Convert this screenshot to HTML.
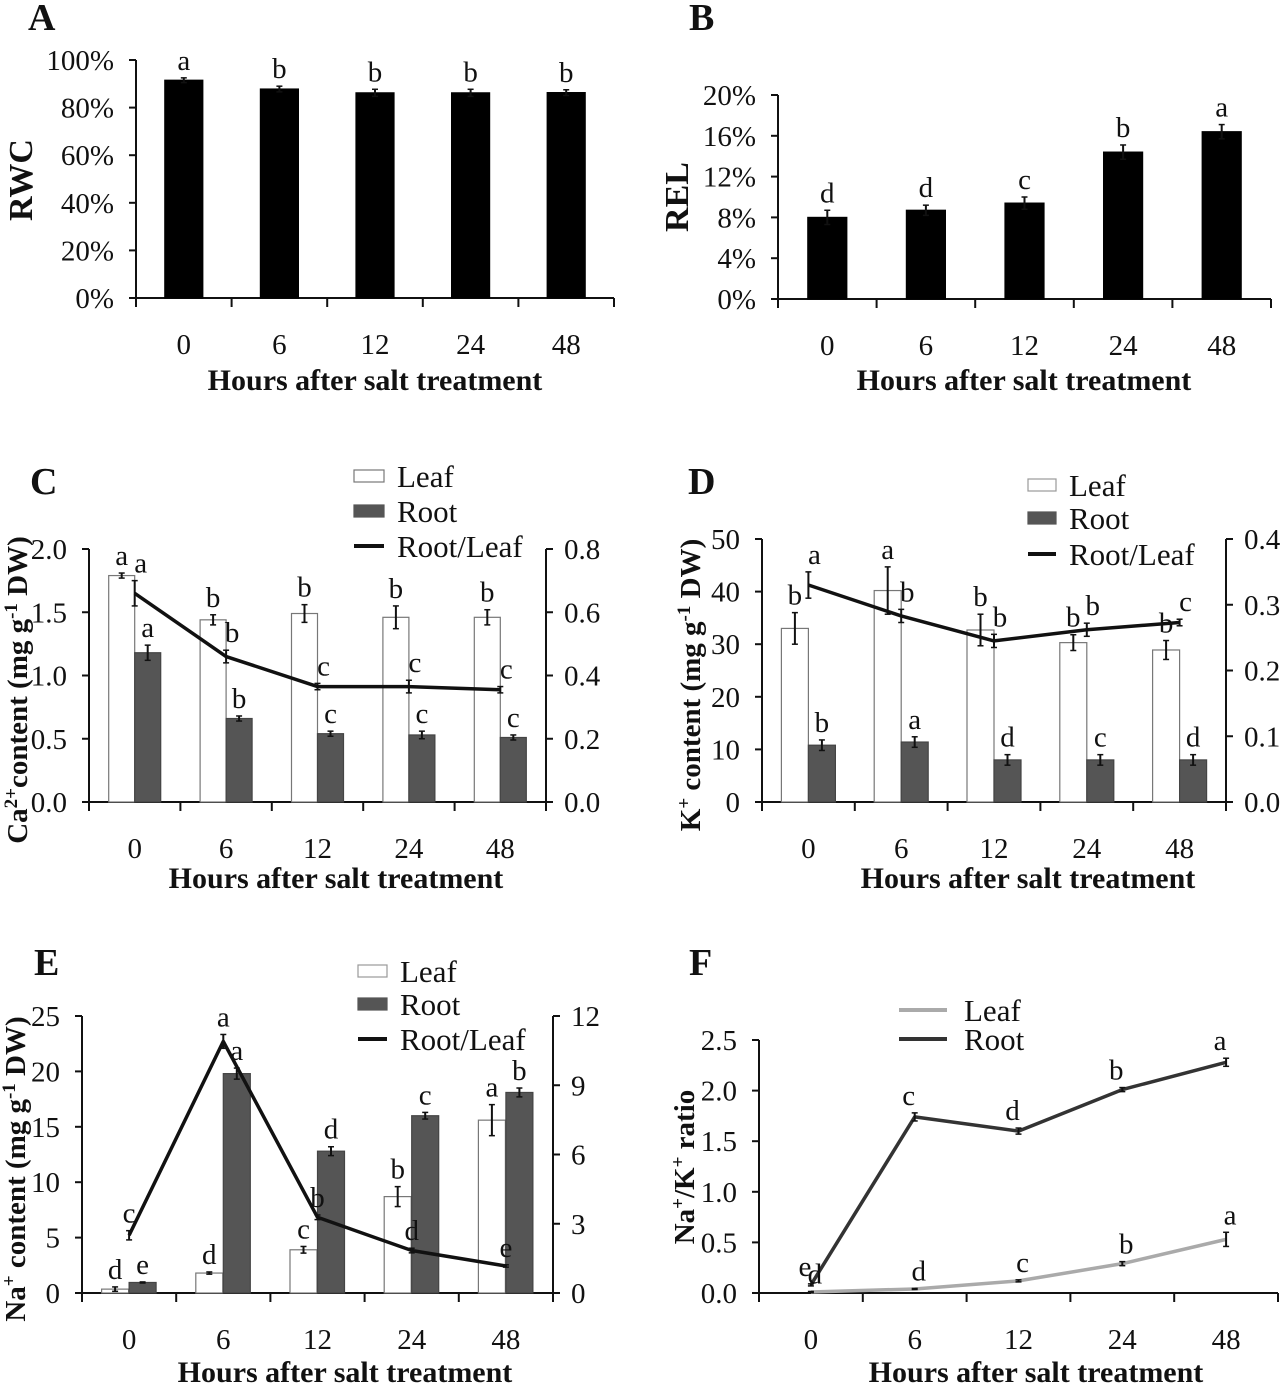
<!DOCTYPE html>
<html><head><meta charset="utf-8"><title>Salt treatment figure</title>
<style>
html,body{margin:0;padding:0;background:#fff;}
svg{display:block;font-family:"Liberation Serif",serif;}
</style></head>
<body>
<svg id="fig" width="1280" height="1384" viewBox="0 0 1280 1384" xmlns="http://www.w3.org/2000/svg"></svg>
<script>
const cats = ["0","6","12","24","48"];
// Panel A
const rwc = [91.5,87.8,86.2,86.2,86.3];
const rwcErr = [1,1.2,1.5,1.5,1.2];
const rwcSig = ["a","b","b","b","b"];
const rwcTicks = ["0%","20%","40%","60%","80%","100%"];
// Panel B
const rel = [8.0,8.7,9.4,14.4,16.4];
const relErr = [0.7,0.5,0.6,0.7,0.7];
const relSig = ["d","d","c","b","a"];
const relTicks = ["0%","4%","8%","12%","16%","20%"];
// Panel C
const caLeaf = [1.79,1.44,1.49,1.46,1.46];
const caLeafErr = [0.02,0.04,0.07,0.09,0.06];
const caLeafSig = ["a","b","b","b","b"];
const caRoot = [1.18,0.66,0.54,0.53,0.51];
const caRootErr = [0.06,0.02,0.02,0.03,0.02];
const caRootSig = ["a","b","c","c","c"];
const caRatio = [0.66,0.46,0.365,0.365,0.355];
const caRatioErr = [0.04,0.02,0.01,0.02,0.01];
const caRatioSig = ["a","b","c","c","c"];
const caTicks = ["0.0","0.5","1.0","1.5","2.0"];
const caRTicks = ["0.0","0.2","0.4","0.6","0.8"];
// Panel D
const kLeaf = [33,40.2,32.7,30.3,28.9];
const kLeafErr = [3,4.5,3,1.5,1.8];
const kLeafSig = ["b","a","b","b","b"];
const kRoot = [10.8,11.4,8,8,8];
const kRootErr = [1,1,1,1,1];
const kRootSig = ["b","a","d","c","d"];
const kRatio = [0.33,0.283,0.245,0.262,0.273];
const kRatioErr = [0.02,0.01,0.01,0.01,0.005];
const kRatioSig = ["a","b","b","b","c"];
const kTicks = ["0","10","20","30","40","50"];
const kRTicks = ["0.0","0.1","0.2","0.3","0.4"];
// Panel E
const naLeaf = [0.35,1.8,3.9,8.7,15.6];
const naLeafErr = [0.2,0.1,0.3,0.9,1.4];
const naLeafSig = ["d","d","c","b","a"];
const naRoot = [0.95,19.8,12.8,16.0,18.1];
const naRootErr = [0.05,0.5,0.4,0.3,0.4];
const naRootSig = ["e","a","d","c","b"];
const naRatio = [2.5,10.9,3.28,1.84,1.17];
const naRatioErr = [0.2,0.3,0.1,0.1,0.05];
const naRatioSig = ["c","a","b","d","e"];
const naTicks = ["0","5","10","15","20","25"];
const naRTicks = ["0","3","6","9","12"];
// Panel F
const fRoot = [0.08,1.74,1.60,2.01,2.28];
const fRootErr = [0.01,0.04,0.03,0.02,0.04];
const fRootSig = ["e","c","d","b","a"];
const fLeaf = [0.01,0.04,0.12,0.29,0.53];
const fLeafErr = [0.005,0.005,0.01,0.02,0.07];
const fLeafSig = ["d","d","c","b","a"];
const fTicks = ["0.0","0.5","1.0","1.5","2.0","2.5"];

const NS = "http://www.w3.org/2000/svg";
const svg = document.getElementById("fig");
function el(tag, attrs, parent){
  const e = document.createElementNS(NS, tag);
  for (const k in attrs) e.setAttribute(k, attrs[k]);
  (parent||svg).appendChild(e);
  return e;
}
function txt(s, x, y, size, opts, parent){
  opts = opts||{};
  const t = el("text", {x:x, y:y, "font-size":size, "text-anchor":opts.anchor||"middle", "font-weight":opts.bold?"bold":"normal", fill:"#111"}, parent);
  if (opts.rot) t.setAttribute("transform", "rotate(-90 "+x+" "+y+")");
  if (opts.parts){
    opts.parts.forEach(p=>{
      const ts = el("tspan", {}, t);
      if (p.sup){ ts.setAttribute("baseline-shift","super"); ts.setAttribute("font-size", Math.round(size*0.65)); }
      ts.textContent = p.t;
    });
  } else t.textContent = s;
  return t;
}
function line(x1,y1,x2,y2,w,c,parent){ return el("line",{x1:x1,y1:y1,x2:x2,y2:y2,stroke:c||"#111","stroke-width":w||2},parent); }

function panel(cfg){
  const g = el("g", {});
  
  
  const gw = (cfg.xEnd - cfg.xAx) / cats.length;
  const cx = i => cfg.xAx + gw*(i+0.5);
  const ys = v => cfg.yBot - (v/cfg.yMax)*(cfg.yBot-cfg.yTop);
  const yr = v => cfg.yBot - (v/(cfg.rMax||1))*(cfg.yBot-cfg.yTop);
  const pl = txt(cfg.letter, cfg.lx, cfg.ly, 38, {bold:true, anchor:"start"}, g);
  
  
  const ya = line(cfg.xAx, cfg.yTop, cfg.xAx, cfg.yBot+1, 2, "#111", g);
  
  
  const nT = cfg.ticks.length;
  cfg.ticks.forEach((t,i)=>{
    const v = cfg.yMax*i/(nT-1);
    line(cfg.xAx-7, ys(v), cfg.xAx, ys(v), 2, "#111", g);
    const tl = txt(t, cfg.xAx-22, ys(v)+10, 29, {anchor:"end"}, g);
    
    
  });
  const xa = line(cfg.xAx, cfg.yBot, cfg.xEnd, cfg.yBot, 2, "#111", g);
  
  
  for (let i=0;i<=cats.length;i++) line(cfg.xAx+gw*i, cfg.yBot, cfg.xAx+gw*i, cfg.yBot+9, 2, "#111", g);
  cats.forEach((c,i)=>{
    const tl = txt(c, cx(i), cfg.yBot+56, 29, {}, g);
    
    
  });
  const xt = txt("Hours after salt treatment", cfg.xtx, cfg.xty, 30, {bold:true}, g);
  
  
  const yt = txt("", cfg.ytx, cfg.yty, cfg.ytSize||29, {bold:true, rot:true, parts:cfg.ytitle}, g);
  
  
  if (cfg.rTicks){
    const ra = line(cfg.xEnd, cfg.yTop, cfg.xEnd, cfg.yBot+9, 2, "#111", g);
    
    
    cfg.rTicks.forEach((t,i)=>{
      const v = cfg.rMax*i/(cfg.rTicks.length-1);
      line(cfg.xEnd, yr(v), cfg.xEnd+7, yr(v), 2, "#111", g);
      const tl = txt(t, cfg.xEnd+18, yr(v)+10, 29, {anchor:"start"}, g);
      
      
    });
  }
  function errBar(x, yv, e, sc){
    line(x, sc(yv+e), x, sc(Math.max(0,yv-e)), 2, "#111", g);
    line(x-3, sc(yv+e), x+3, sc(yv+e), 1.5, "#111", g);
    line(x-3, sc(Math.max(0,yv-e)), x+3, sc(Math.max(0,yv-e)), 1.5, "#111", g);
  }
  (cfg.bars||[]).forEach(s=>{
    s.vals.forEach((v,i)=>{
      const x = cx(i) + s.off - s.w/2;
      const r = el("rect", {x:x, y:ys(v), width:s.w, height:cfg.yBot-ys(v), fill:s.fill, stroke:s.stroke, "stroke-width":1.2}, g);
      
      
      errBar(cx(i)+s.off, v, s.err[i], ys);
      const l = txt(s.sig[i], cx(i)+s.off+(s.sigDx||0), ys(v+s.err[i])-8, 29, {}, g);
      
      
    });
  });
  (cfg.lines||[]).forEach(s=>{
    const sc = s.right ? yr : ys;
    const pts = s.vals.map((v,i)=>(cx(i)+s.off)+","+sc(v)).join(" ");
    const p = el("polyline", {points:pts, fill:"none", stroke:s.color, "stroke-width":3.5, "stroke-linejoin":"round"}, g);
    
    
    s.vals.forEach((v,i)=>{
      errBar(cx(i)+s.off, v, s.err[i], sc);
      const l = txt(s.sig[i], cx(i)+s.off+(s.sigDx||0), sc(v+s.err[i])-8, 29, {}, g);
      
      
    });
  });
  (cfg.legend||[]).forEach(it=>{
    const lg = el("g", {}, g);
    
    
    if (it.type==="box") el("rect", {x:it.x, y:it.y-6, width:it.w, height:12, fill:it.fill, stroke:it.stroke, "stroke-width":1.2}, lg);
    else line(it.x, it.y, it.x+it.w, it.y, 4, it.color, lg);
    txt(it.label, it.tx, it.y+11, 31, {anchor:"start"}, lg);
  });
}

panel({name:"panel-a-rwc", letter:"A", lx:28, ly:30, xAx:136, xEnd:614, yTop:60, yBot:298, yMax:100, ticks:rwcTicks,
  xtx:375, xty:390, ytitle:[{t:"RWC"}], ytx:32, yty:180, ytSize:34,
  bars:[{name:"rwc", vals:rwc, err:rwcErr, sig:rwcSig, off:0, w:38, fill:"#000", stroke:"#000"}]});

panel({name:"panel-b-rel", letter:"B", lx:689, ly:30, xAx:778, xEnd:1271, yTop:95, yBot:299, yMax:20, ticks:relTicks,
  xtx:1024, xty:390, ytitle:[{t:"REL"}], ytx:688, yty:197, ytSize:34,
  bars:[{name:"rel", vals:rel, err:relErr, sig:relSig, off:0, w:39, fill:"#000", stroke:"#000"}]});

panel({name:"panel-c-calcium", letter:"C", lx:30, ly:494, xAx:89, xEnd:546, yTop:549, yBot:802, yMax:2.0, ticks:caTicks,
  rMax:0.8, rTicks:caRTicks,
  xtx:336, xty:888, ytitle:[{t:"Ca"},{t:"2+",sup:true},{t:"content (mg g"},{t:"-1",sup:true},{t:" DW)"}], ytx:27, yty:690,
  bars:[{name:"leaf", vals:caLeaf, err:caLeafErr, sig:caLeafSig, off:-13, w:26, fill:"#fff", stroke:"#777"},
        {name:"root", vals:caRoot, err:caRootErr, sig:caRootSig, off:13, w:26, fill:"#555", stroke:"#444"}],
  lines:[{name:"root-leaf-ratio", vals:caRatio, err:caRatioErr, sig:caRatioSig, off:0, right:true, color:"#111", sigDx:6}],
  legend:[{type:"box",x:354,y:476,w:30,fill:"#fff",stroke:"#777",label:"Leaf",tx:397},
          {type:"box",x:354,y:511,w:30,fill:"#555",stroke:"#555",label:"Root",tx:397},
          {type:"line",x:354,y:546,w:30,color:"#111",label:"Root/Leaf",tx:397}]});

panel({name:"panel-d-potassium", letter:"D", lx:688, ly:494, xAx:762, xEnd:1226, yTop:539, yBot:802, yMax:50, ticks:kTicks,
  rMax:0.4, rTicks:kRTicks,
  xtx:1028, xty:888, ytitle:[{t:"K"},{t:"+",sup:true},{t:" content (mg g"},{t:"-1",sup:true},{t:" DW)"}], ytx:700, yty:685,
  bars:[{name:"leaf", vals:kLeaf, err:kLeafErr, sig:kLeafSig, off:-13.5, w:27, fill:"#fff", stroke:"#777"},
        {name:"root", vals:kRoot, err:kRootErr, sig:kRootSig, off:13.5, w:27, fill:"#555", stroke:"#444"}],
  lines:[{name:"root-leaf-ratio", vals:kRatio, err:kRatioErr, sig:kRatioSig, off:0, right:true, color:"#111", sigDx:6}],
  legend:[{type:"box",x:1028,y:485,w:28,fill:"#fff",stroke:"#999",label:"Leaf",tx:1069},
          {type:"box",x:1028,y:518,w:28,fill:"#555",stroke:"#555",label:"Root",tx:1069},
          {type:"line",x:1028,y:554,w:28,color:"#111",label:"Root/Leaf",tx:1069}]});

panel({name:"panel-e-sodium", letter:"E", lx:34, ly:975, xAx:82, xEnd:553, yTop:1016, yBot:1293, yMax:25, ticks:naTicks,
  rMax:12, rTicks:naRTicks,
  xtx:345, xty:1382, ytitle:[{t:"Na"},{t:"+",sup:true},{t:" content (mg g"},{t:"-1",sup:true},{t:" DW)"}], ytx:25, yty:1169,
  bars:[{name:"leaf", vals:naLeaf, err:naLeafErr, sig:naLeafSig, off:-14, w:27, fill:"#fff", stroke:"#777"},
        {name:"root", vals:naRoot, err:naRootErr, sig:naRootSig, off:13.5, w:27, fill:"#555", stroke:"#444"}],
  lines:[{name:"root-leaf-ratio", vals:naRatio, err:naRatioErr, sig:naRatioSig, off:0, right:true, color:"#111"}],
  legend:[{type:"box",x:358,y:971,w:29,fill:"#fff",stroke:"#999",label:"Leaf",tx:400},
          {type:"box",x:358,y:1004,w:29,fill:"#555",stroke:"#555",label:"Root",tx:400},
          {type:"line",x:358,y:1039,w:29,color:"#111",label:"Root/Leaf",tx:400}]});

panel({name:"panel-f-na-k-ratio", letter:"F", lx:689, ly:975, xAx:759, xEnd:1278, yTop:1040, yBot:1293, yMax:2.5, ticks:fTicks,
  xtx:1036, xty:1382, ytitle:[{t:"Na"},{t:"+",sup:true},{t:"/K"},{t:"+",sup:true},{t:" ratio"}], ytx:694, yty:1167,
  lines:[{name:"root", vals:fRoot, err:fRootErr, sig:fRootSig, off:0, color:"#333", sigDx:-6},
         {name:"leaf", vals:fLeaf, err:fLeafErr, sig:fLeafSig, off:0, color:"#aaa", sigDx:4}],
  legend:[{type:"line",x:899,y:1010,w:48,color:"#aaa",label:"Leaf",tx:964},
          {type:"line",x:899,y:1039,w:48,color:"#333",label:"Root",tx:964}]});
</script>
</body></html>
